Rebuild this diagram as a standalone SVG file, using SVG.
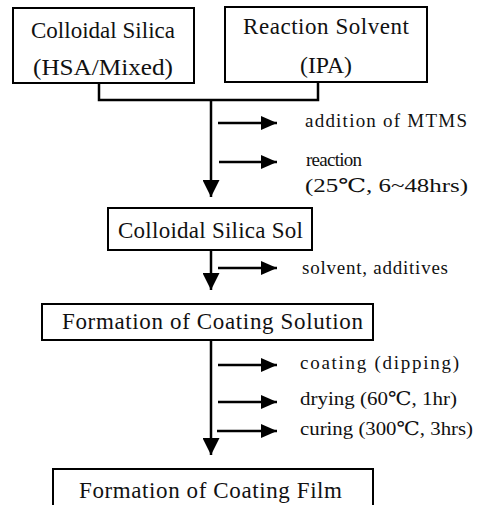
<svg xmlns="http://www.w3.org/2000/svg" width="479" height="505" viewBox="0 0 479 505">
  <defs>
    <style>
      .box { fill: #ffffff; stroke: #000000; stroke-width: 2; }
      .lbl { font-size: 23px; fill: #111111; text-anchor: middle; }
      .note { font-size: 19px; fill: #111111; }
      .ln { fill: none; stroke: #000000; stroke-width: 2.5; }
      .side { fill: none; stroke: #000000; stroke-width: 2.5; marker-end: url(#sideHead); }
      .down { fill: none; stroke: #000000; stroke-width: 2.5; marker-end: url(#downHead); }
    </style>
    <marker id="sideHead" markerUnits="userSpaceOnUse" markerWidth="17" markerHeight="14" refX="16" refY="7" orient="auto">
      <path d="M0,0 L16,7 L0,14 Z" fill="#000000"/>
    </marker>
    <marker id="downHead" markerUnits="userSpaceOnUse" markerWidth="18" markerHeight="17" refX="17" refY="8.5" orient="auto">
      <path d="M0,0 L17,8.5 L0,17 Z" fill="#000000"/>
    </marker>
  </defs>
  <rect width="479" height="505" fill="#ffffff"/>

  <g id="connectors">
    <path class="ln" d="M99,83 V100 H318 V82"/>
    <path class="down" d="M211,100 V197"/>
    <path class="down" d="M211,250 V290"/>
    <path class="down" d="M211,340 V455"/>
    <path class="side" d="M218,123 H277"/>
    <path class="side" d="M219,162 H277"/>
    <path class="side" d="M218,268 H277"/>
    <path class="side" d="M218,365 H277"/>
    <path class="side" d="M218,402 H277"/>
    <path class="side" d="M217,431 H277"/>
  </g>

  <g font-family="Liberation Serif, DejaVu Serif, serif">
  <g id="node-colloidal-silica">
    <rect class="box" x="13" y="8" width="181" height="75"/>
    <text class="lbl" x="103" y="38" textLength="144" lengthAdjust="spacing">Colloidal Silica</text>
    <text class="lbl" x="103" y="75" textLength="140" lengthAdjust="spacingAndGlyphs">(HSA/Mixed)</text>
  </g>

  <g id="node-reaction-solvent">
    <rect class="box" x="225" y="7" width="202" height="75"/>
    <text class="lbl" x="326" y="34" textLength="166" lengthAdjust="spacing">Reaction Solvent</text>
    <text class="lbl" x="326" y="73" textLength="52" lengthAdjust="spacingAndGlyphs">(IPA)</text>
  </g>

  <g id="node-sol">
    <rect class="box" x="108" y="208" width="204" height="42"/>
    <text class="lbl" x="210.5" y="238" textLength="185" lengthAdjust="spacing">Colloidal Silica Sol</text>
  </g>

  <g id="node-coating-solution">
    <rect class="box" x="42" y="304" width="331" height="36"/>
    <text class="lbl" x="212.5" y="329" textLength="301" lengthAdjust="spacing">Formation of Coating Solution</text>
  </g>

  <g id="node-coating-film">
    <rect class="box" x="53" y="469" width="320" height="50"/>
    <text class="lbl" x="210.5" y="498" textLength="263" lengthAdjust="spacing">Formation of Coating Film</text>
  </g>

  <g id="notes">
    <text class="note" x="305" y="127" textLength="162" lengthAdjust="spacing">addition of MTMS</text>
    <text class="note" x="306" y="166" textLength="56" lengthAdjust="spacing">reaction</text>
    <text class="note" x="305" y="192" textLength="163" lengthAdjust="spacingAndGlyphs">(25℃, 6~48hrs)</text>
    <text class="note" x="302" y="274" textLength="146" lengthAdjust="spacing">solvent, additives</text>
    <text class="note" x="300" y="369" textLength="159" lengthAdjust="spacing">coating (dipping)</text>
    <text class="note" x="300" y="405" textLength="157" lengthAdjust="spacingAndGlyphs">drying (60℃, 1hr)</text>
    <text class="note" x="300" y="435" textLength="173" lengthAdjust="spacingAndGlyphs">curing (300℃, 3hrs)</text>
  </g>
  </g>
</svg>
